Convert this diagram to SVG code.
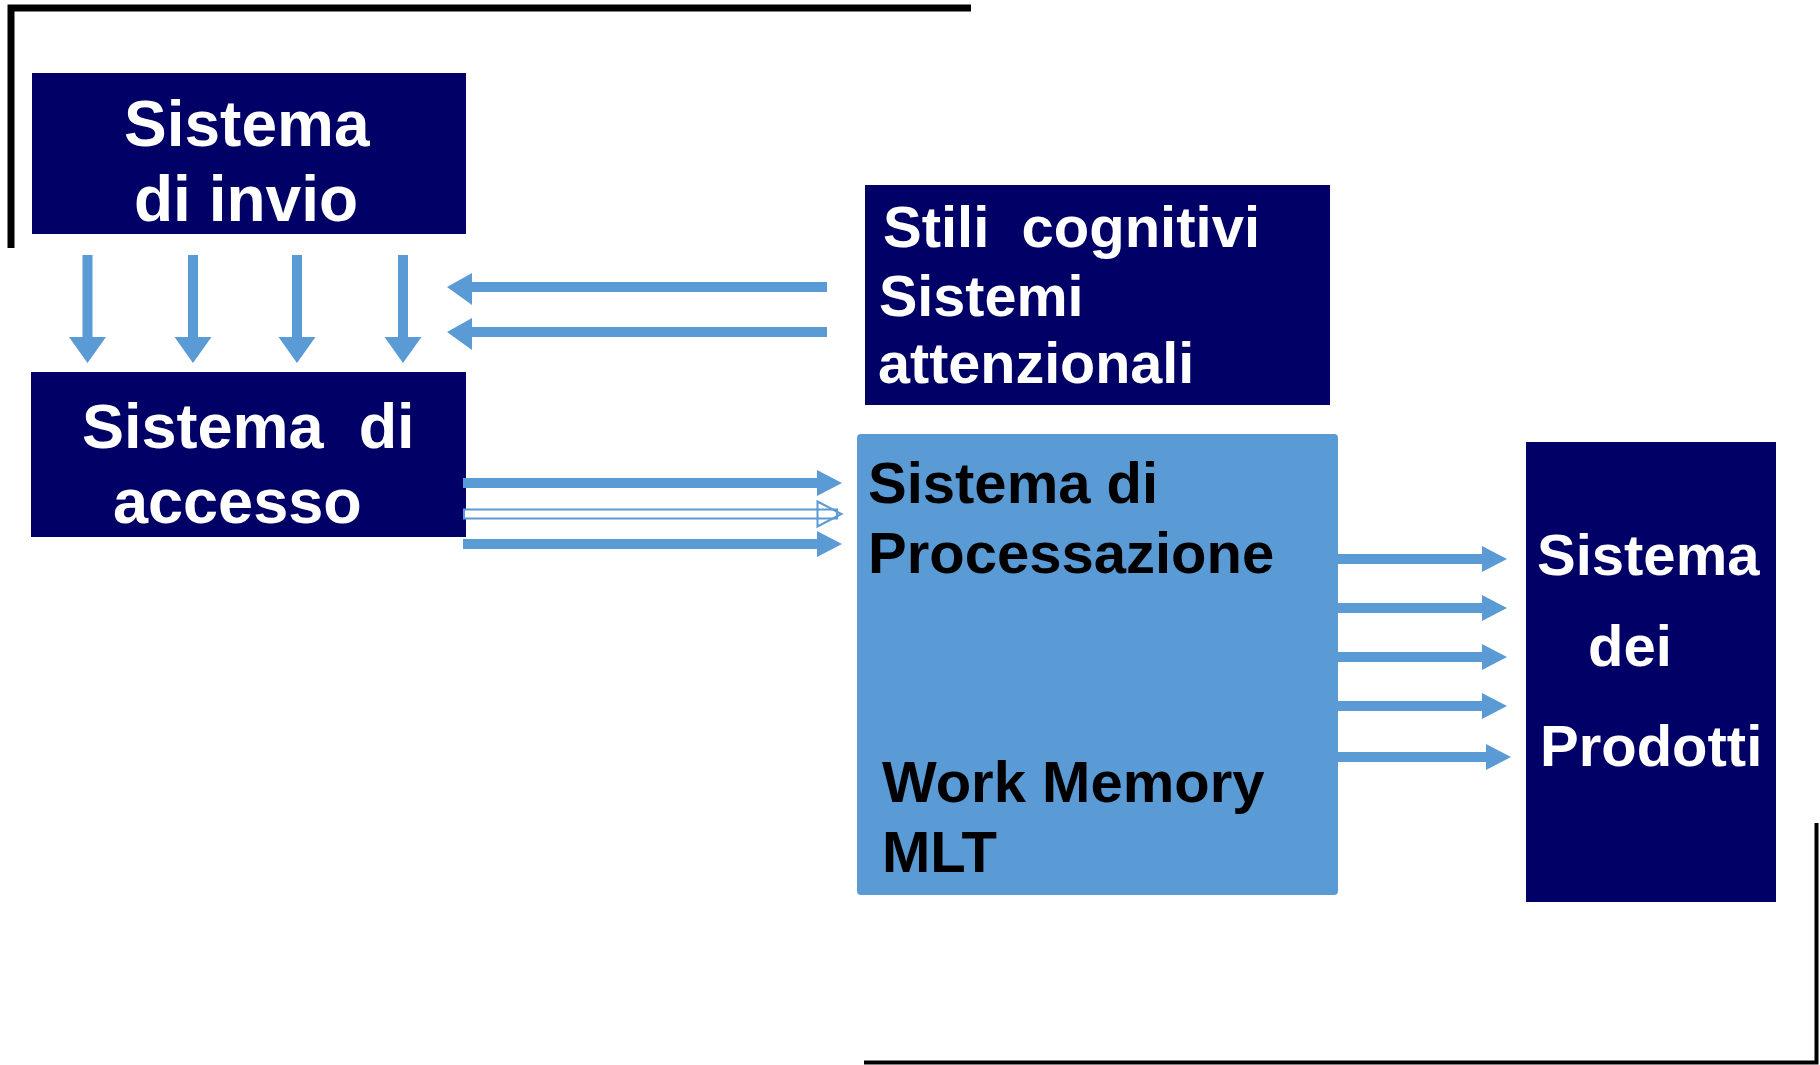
<svg xmlns="http://www.w3.org/2000/svg" width="1820" height="1065" viewBox="0 0 1820 1065">
<style>
.navy{fill:#000066}
.proc{fill:#5B9BD5}
.t{font-family:"Liberation Sans",Arial,sans-serif;font-weight:bold}
.w{fill:#ffffff}
.k{fill:#000000}
.arr{fill:#5B9BD5}
.frame{stroke:#000;fill:none}
</style>
<rect width="1820" height="1065" fill="#ffffff"/>
<g id="frame">
<path class="frame" d="M11,248 V8 H971" stroke-width="7"/>
<path class="frame" d="M864,1062.5 H1816.5 V823" stroke-width="4"/>
</g>
<g id="invio">
<rect class="navy" x="32" y="73" width="434" height="161"/>
<text class="t w" font-size="64" x="124" y="146">Sistema</text>
<text class="t w" font-size="64" x="134" y="221">di invio</text>
</g>
<g id="accesso">
<rect class="navy" x="31" y="372" width="435" height="165"/>
<text class="t w" font-size="63" x="82" y="448" xml:space="preserve">Sistema  di</text>
<text class="t w" font-size="63" x="113" y="523">accesso</text>
</g>
<g id="stili">
<rect class="navy" x="865" y="185" width="465" height="220"/>
<text class="t w" font-size="58" x="883" y="247" xml:space="preserve">Stili  cognitivi</text>
<text class="t w" font-size="57.5" x="879" y="316">Sistemi</text>
<text class="t w" font-size="57.5" x="878" y="383">attenzionali</text>
</g>
<g id="processazione">
<rect class="proc" x="857" y="434" width="481" height="461" rx="4"/>
<text class="t k" font-size="58" x="868" y="503">Sistema di</text>
<text class="t k" font-size="58" x="868" y="573">Processazione</text>
<text class="t k" font-size="58" x="882" y="802">Work Memory</text>
<text class="t k" font-size="58" x="882" y="872">MLT</text>
</g>
<g id="prodotti">
<rect class="navy" x="1526" y="442" width="250" height="460"/>
<text class="t w" font-size="58" x="1537" y="575">Sistema</text>
<text class="t w" font-size="58" x="1588" y="666">dei</text>
<text class="t w" font-size="58" x="1540" y="766">Prodotti</text>
</g>
<g id="connectors">
<path class="arr" d="M82.5,255 h10 v82 h13.5 l-18.5,26 l-18.5,-26 h13.5 z"/>
<path class="arr" d="M188,255 h10 v82 h13.5 l-18.5,26 l-18.5,-26 h13.5 z"/>
<path class="arr" d="M292,255 h10 v82 h13.5 l-18.5,26 l-18.5,-26 h13.5 z"/>
<path class="arr" d="M398,255 h10 v82 h13.5 l-18.5,26 l-18.5,-26 h13.5 z"/>
<path class="arr" d="M827,282 v10 H472 v13 L447,287 L472,273 v9 z"/>
<path class="arr" d="M827,327 v10 H472 v13 L447,332 L472,318 v9 z"/>
<path class="arr" d="M463,478 H817 v-8 L842,483 L817,496 v-8 H463 z"/>
<g fill="#ffffff" stroke="#5B9BD5" stroke-width="2">
<rect x="464" y="509.5" width="373" height="9"/>
<path d="M817.5,501.5 L841.5,514 L817.5,526.5 z" fill="none"/>
</g>
<path class="arr" d="M463,539 H817 v-8 L842,544 L817,557 v-8 H463 z"/>
<path class="arr" d="M1338,554 H1482 v-8 L1507,559 L1482,572 v-8 H1338 z"/>
<path class="arr" d="M1338,603 H1482 v-8 L1507,608 L1482,621 v-8 H1338 z"/>
<path class="arr" d="M1338,652 H1482 v-8 L1507,657 L1482,670 v-8 H1338 z"/>
<path class="arr" d="M1338,701 H1482 v-8 L1507,706 L1482,719 v-8 H1338 z"/>
<path class="arr" d="M1338,752 H1486 v-8 L1511,757 L1486,770 v-8 H1338 z"/>
</g>
</svg>
